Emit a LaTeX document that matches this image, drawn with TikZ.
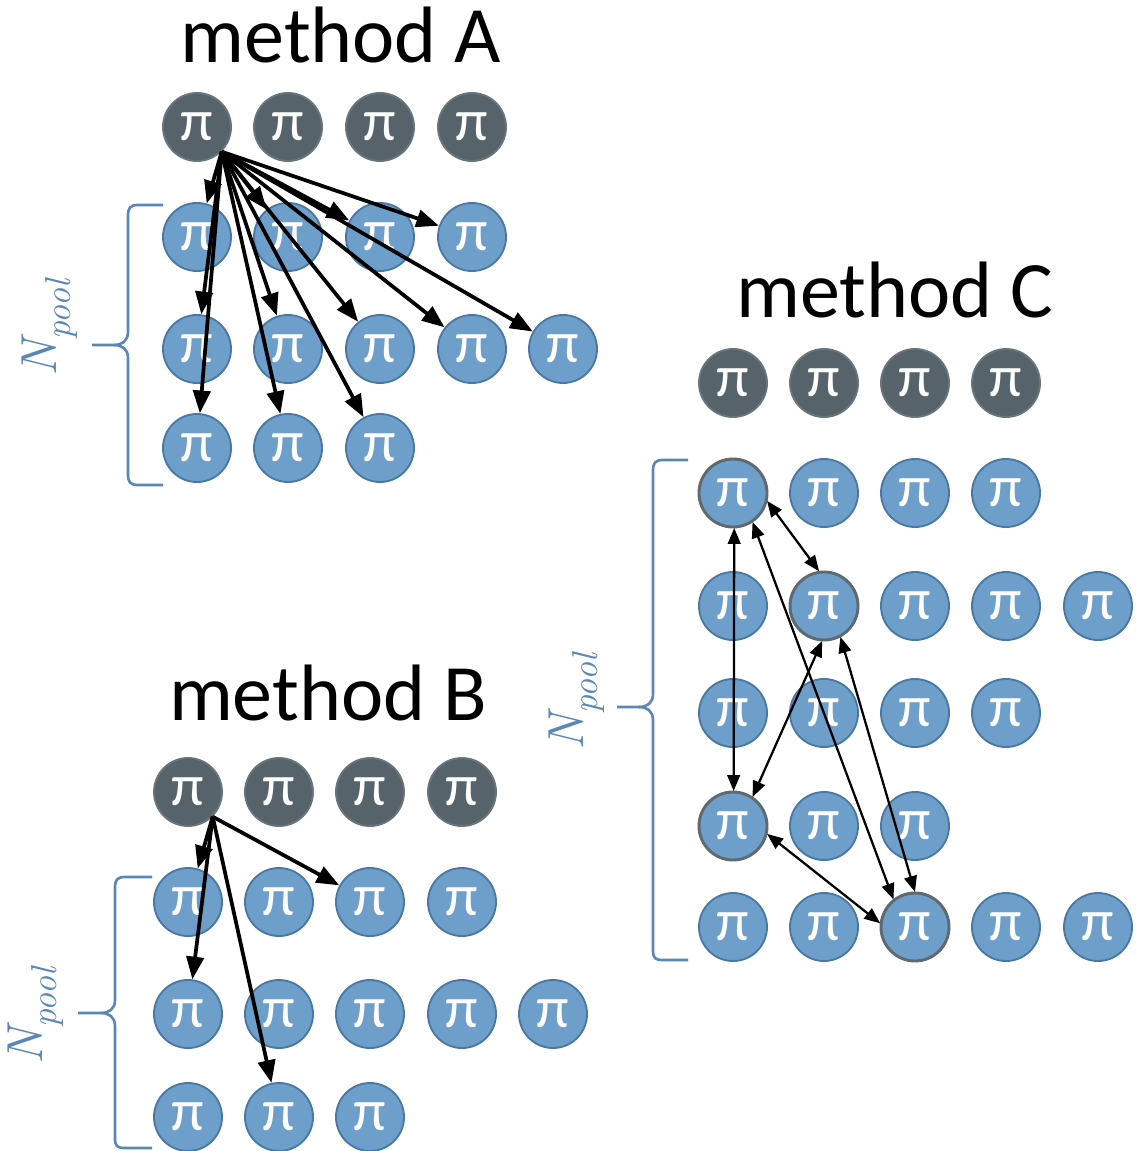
\documentclass[tikz,border=0pt]{standalone}
\usepackage{fontspec}
\newfontfamily\carl{Carlito}
\newfontfamily\lmr{Latin Modern Roman}
\usetikzlibrary{arrows.meta}
\definecolor{pblue}{HTML}{6E9FCB}
\definecolor{pbord}{HTML}{4A78A4}
\definecolor{pdark}{HTML}{56636A}
\definecolor{pdarkb}{HTML}{6A757B}
\definecolor{phl}{HTML}{5E6A70}
\definecolor{brc}{HTML}{5A87B6}
\newcommand\npooltext{{\lmr\itshape\fontsize{38}{38}\selectfont N\raisebox{-0.28em}{\fontsize{27}{27}\selectfont pool}}}
\tikzset{
  pinode/.style={circle,minimum size=51pt,inner sep=0pt,text=white,
    font=\carl\fontsize{44}{44}\selectfont},
  bl/.style={pinode,fill=pblue,draw=pbord,line width=1.4pt},
  dk/.style={pinode,fill=pdark,draw=pdarkb,line width=1.4pt},
  hl/.style={bl,draw=phl,line width=2.2pt},
  title/.style={font=\carl\fontsize{60}{60}\selectfont,anchor=base},
  npool/.style={text=brc,rotate=90,inner sep=0pt},
  brace/.style={draw=brc,line width=2pt},
  arrA/.style={line width=2.8pt,-{Triangle[length=17pt,width=13pt]}},
  arrC/.style={line width=1.7pt,{Triangle[length=12pt,width=9.5pt]}-{Triangle[length=12pt,width=9.5pt]}},
}
\begin{document}
\begin{tikzpicture}[x=0.75pt,y=-0.75pt]
\useasboundingbox[fill=white] (0,0) rectangle (1147,1151);

% ---------- method A ----------
\node[title] (tA) at (341,63) {method A};
\foreach \x [count=\i] in {197,288,380,472} \node[dk] (Ad\i) at (\x,127) {π};
\foreach \x [count=\i] in {197,288,380,472} \node[bl] (A1\i) at (\x,237) {π};
\foreach \x [count=\i] in {197,288,380,472,563} \node[bl] (A2\i) at (\x,349) {π};
\foreach \x [count=\i] in {197,288,380} \node[bl] (A3\i) at (\x,448) {π};
\foreach \t in {11,12,13,14,21,22,23,24,25,31,32,33}
  \draw[arrA] (Ad1.-45) -- (A\t);
\draw[brace] (163,205) -- (138,205) .. controls (130,205) and (128,208) .. (128,216)
  -- (128,332) .. controls (128,341) and (122,345) .. (114,345) -- (92,345);
\draw[brace] (114,345) .. controls (122,345) and (128,349) .. (128,358)
  -- (128,474) .. controls (128,482) and (130,485) .. (138,485) -- (163,485);
\node[npool] (NA) at (50,328) {\npooltext};

% ---------- method B ----------
\node[title] (tB) at (328,720) {method B};
\foreach \x [count=\i] in {188,279,370,462} \node[dk] (Bd\i) at (\x,792) {π};
\foreach \x [count=\i] in {188,279,370,462} \node[bl] (B1\i) at (\x,902) {π};
\foreach \x [count=\i] in {188,279,370,462,553} \node[bl] (B2\i) at (\x,1014) {π};
\foreach \x [count=\i] in {188,279,370} \node[bl] (B3\i) at (\x,1117) {π};
\foreach \t in {11,13,21,32}
  \draw[arrA] (Bd1.-45) -- (B\t);
\draw[brace] (152,877) -- (125,877) .. controls (117,877) and (115,880) .. (115,888)
  -- (115,1000) .. controls (115,1009) and (109,1013) .. (101,1013) -- (78,1013);
\draw[brace] (101,1013) .. controls (109,1013) and (115,1017) .. (115,1026)
  -- (115,1138) .. controls (115,1146) and (117,1148) .. (125,1148) -- (152,1148);
\node[npool] (NB) at (36,1016) {\npooltext};

% ---------- method C ----------
\node[title] (tC) at (895,318) {method C};
\foreach \x [count=\i] in {733,824,915,1006} \node[dk] (Cd\i) at (\x,383) {π};
\foreach \x [count=\i] in {733,824,915,1006} \node[bl] (C1\i) at (\x,493) {π};
\foreach \x [count=\i] in {733,824,915,1006,1098} \node[bl] (C2\i) at (\x,606) {π};
\foreach \x [count=\i] in {733,824,915,1006} \node[bl] (C3\i) at (\x,713) {π};
\foreach \x [count=\i] in {733,824,915} \node[bl] (C4\i) at (\x,826) {π};
\foreach \x [count=\i] in {733,824,915,1006,1098} \node[bl] (C5\i) at (\x,927) {π};
\node[hl] at (C11) {π};
\node[hl] at (C22) {π};
\node[hl] at (C41) {π};
\node[hl] at (C53) {π};
\draw[arrC] (C11.-13) -- (C22.98);
\draw[arrC] (C11.-56) -- (C53.128);
\draw[arrC] (C11.-88) -- (C41.89);
\draw[arrC] (C22.-93) -- (C41.56);
\draw[arrC] (C22.-62) -- (C53.90);
\draw[arrC] (C41.-13) -- (C53.174);
\draw[brace] (688,460) -- (663,460) .. controls (655,460) and (653,463) .. (653,471)
  -- (653,694) .. controls (653,703) and (647,707) .. (639,707) -- (617,707);
\draw[brace] (639,707) .. controls (647,707) and (653,711) .. (653,720)
  -- (653,950) .. controls (653,958) and (655,960) .. (663,960) -- (688,960);
\node[npool] (NC) at (577,702) {\npooltext};
\end{tikzpicture}
\end{document}
